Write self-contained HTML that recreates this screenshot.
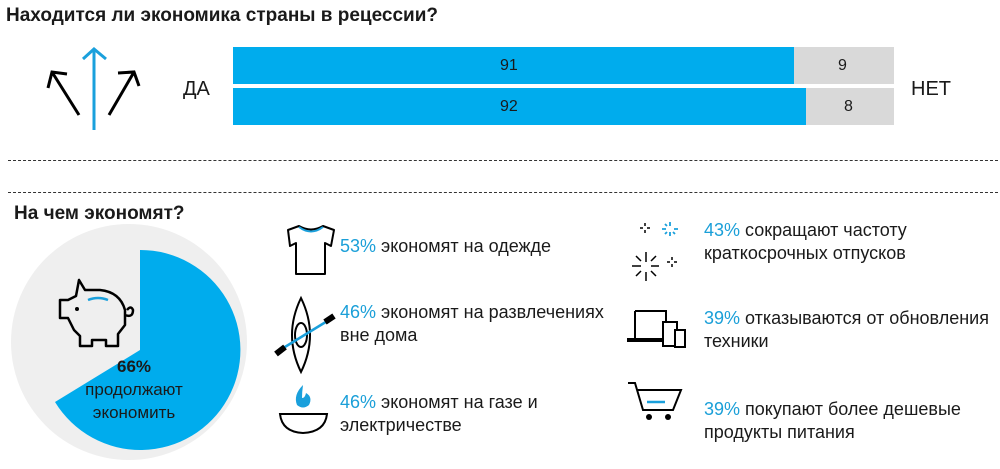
<!DOCTYPE html>
<html><head><meta charset="utf-8"><style>
body{margin:0;width:1000px;height:469px;background:#fff;position:relative;overflow:hidden;font-family:"Liberation Sans",Arial,sans-serif;color:#1a1a1a}
.t{position:absolute;white-space:nowrap;font-size:18px;line-height:23px}
.b{color:#1a9fd8}
.dash{position:absolute;left:8px;width:990px;border-top:1px dashed #333}
</style></head><body>
<div class="t" style="left:6px;top:4px;font-weight:bold;font-size:19px">Находится ли экономика страны в рецессии?</div>
<svg style="position:absolute;left:0;top:0" width="1000" height="469">
 <g stroke="#000" stroke-width="3" fill="none">
  <path d="M79 115 L52 72 M48 88 L52 72 L67 74"/>
  <path d="M109 115 L134 72 M118 73 L134 72 L139 86"/>
 </g>
 <g stroke="#1aa0dc" stroke-width="3" fill="none">
  <path d="M94 130 L94 50 M83 59 L94 49 L106 59"/>
 </g>
 <rect x="233" y="47" width="561" height="37" fill="#00aced"/>
 <rect x="794" y="47" width="100" height="37" fill="#d9d9d9"/>
 <rect x="233" y="88" width="573" height="37" fill="#00aced"/>
 <rect x="806" y="88" width="88" height="37" fill="#d9d9d9"/>
 <circle cx="129" cy="342" r="118" fill="#efefef"/>
 <path d="M140 350 L140 250 A100 100 0 1 1 55 402 Z" fill="#00aced"/>
 <g stroke="#000" stroke-width="2.5" fill="none" stroke-linejoin="round">
  <path d="M68 300 L60 300 L60 318 L68 318 L74 330 L80 336 L80 346 L92 346 L92 340 L106 340 L106 346 L118 346 L118 334 L125 325 L125 310 Q120 292 100 290 L85 290 L79 280 L76 296 Z"/>
  <path d="M125 315 Q133 318 133 310 Q131 305 127 310"/>
 </g>
 <circle cx="77" cy="309" r="2" fill="#000"/>
 <path d="M88 300 Q98 296 108 300" stroke="#1aa0dc" stroke-width="2.5" fill="none"/>
 <g stroke="#000" stroke-width="2" fill="none" stroke-linejoin="round">
  <path d="M288 230 L299 226 Q311 233 323 226 L334 230 L331 246 L325 243 L325 274 L296 274 L296 243 L290 246 Z"/>
 </g>
 <path d="M299 227 Q311 236 323 227" stroke="#1aa0dc" stroke-width="2" fill="none"/>
 <g stroke="#000" stroke-width="2" fill="none">
  <path d="M301 298 Q283 335 301 372 Q319 335 301 298 Z"/>
  <ellipse cx="301" cy="335" rx="6" ry="12"/>
 </g>
 <path d="M280 350 L329 320" stroke="#1aa0dc" stroke-width="2.5"/>
 <path d="M276 354 L285 347 M325 322 L334 316" stroke="#000" stroke-width="6"/>
 <path d="M303 385 Q293 395 297 405 Q303 410 309 405 Q313 397 306 393 Q305 398 302 398 Q302 392 303 385 Z" fill="#1aa0dc"/>
 <path d="M280 414 L327 414 Q325 432 303 433 Q282 432 280 414 Z" stroke="#000" stroke-width="2" fill="none"/>
 <g stroke="#000" stroke-width="1.5">
  <path d="M646 252 L646 262 M646 272 L646 281 M632 266 L641 266 M651 266 L659 266 M636 256 L641 261 M651 271 L656 276 M636 276 L641 271 M656 256 L651 261"/>
  <path d="M645 223 L645 226 M645 230 L645 233 M640 228 L643 228 M647 228 L650 228"/>
  <path d="M672 257 L672 260 M672 264 L672 267 M667 262 L670 262 M674 262 L677 262"/>
 </g>
 <g stroke="#1aa0dc" stroke-width="1.8">
  <path d="M670 222 L670 226 M670 232 L670 236 M662 229 L666 229 M674 229 L678 229 M665 224 L667 226 M673 232 L675 234 M665 234 L667 232"/>
 </g>
 <g stroke="#000" stroke-width="2" fill="none">
  <path d="M635 311 L666 311 L666 334 M635 311 L635 339"/>
  <rect x="663" y="322" width="14" height="24" fill="#fff"/>
  <rect x="675" y="330" width="10" height="17" fill="#fff"/>
 </g>
 <path d="M627 340 L663 340" stroke="#000" stroke-width="4"/>
 <g stroke="#000" stroke-width="2" fill="none">
  <path d="M628 383 L635 383 L643 410 L673 410 L681 390 L637 390"/>
 </g>
 <path d="M647 402 L665 402" stroke="#1aa0dc" stroke-width="2.5"/>
 <circle cx="649" cy="417" r="3" fill="#000"/><circle cx="668" cy="417" r="3" fill="#000"/>
</svg>
<div class="t" style="left:183px;top:78px;font-size:20px">ДА</div>
<div class="t" style="left:911px;top:78px;font-size:20px">НЕТ</div>
<div class="t" style="left:500px;top:54px;font-size:16px">91</div>
<div class="t" style="left:838px;top:54px;font-size:16px">9</div>
<div class="t" style="left:500px;top:95px;font-size:16px">92</div>
<div class="t" style="left:844px;top:95px;font-size:16px">8</div>
<div class="dash" style="top:160px"></div>
<div class="dash" style="top:192px"></div>
<div class="t" style="left:14px;top:202px;font-weight:bold;font-size:19px">На чем экономят?</div>
<div class="t" style="left:74px;top:355px;font-size:17px;line-height:23px;text-align:center;width:120px"><b>66%</b><br>продолжают<br>экономить</div>
<div class="t" style="left:340px;top:235px"><span class="b">53%</span> экономят на одежде</div>
<div class="t" style="left:340px;top:301px"><span class="b">46%</span> экономят на развлечениях<br>вне дома</div>
<div class="t" style="left:340px;top:391px"><span class="b">46%</span> экономят на газе и<br>электричестве</div>
<div class="t" style="left:704px;top:219px"><span class="b">43%</span> сокращают частоту<br>краткосрочных отпусков</div>
<div class="t" style="left:704px;top:307px"><span class="b">39%</span> отказываются от обновления<br>техники</div>
<div class="t" style="left:704px;top:398px"><span class="b">39%</span> покупают более дешевые<br>продукты питания</div>
</body></html>
